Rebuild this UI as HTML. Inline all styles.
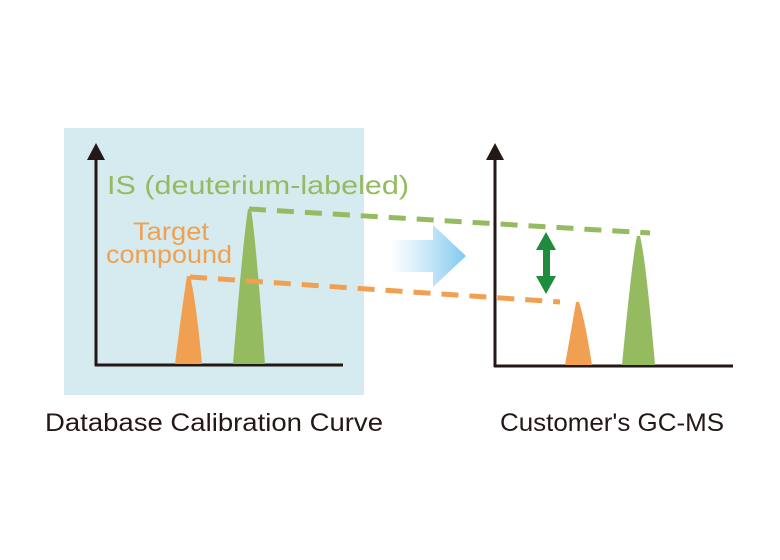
<!DOCTYPE html>
<html><head><style>body{margin:0;background:#fff}svg{display:block}</style></head><body>
<svg width="780" height="560" xmlns="http://www.w3.org/2000/svg" font-family="'Liberation Sans', sans-serif">
<defs>
<linearGradient id="g" x1="0" x2="1" y1="0" y2="0">
<stop offset="0" stop-color="#9fd6f2" stop-opacity="0"/>
<stop offset="1" stop-color="#7ec8ef"/>
</linearGradient>
</defs>
<rect x="64" y="128" width="300" height="267" fill="#d5ebef"/>
<line x1="96" y1="155" x2="96" y2="366" stroke="#231815" stroke-width="3"/>
<polygon points="96,143 87,160 105,160" fill="#231815"/>
<line x1="95" y1="365" x2="343" y2="365" stroke="#231815" stroke-width="3"/>
<path d="M175,364 Q183,300 187,276 L190,276 Q196,300 202,364 Z" fill="#f0a050"/>
<path d="M233,364 Q243,240 248,209 L251,209 Q256,240 265,364 Z" fill="#94bb5f"/>
<line x1="249" y1="209" x2="650" y2="233" stroke="#94bb5f" stroke-width="5" stroke-dasharray="17,11"/>
<line x1="190" y1="277" x2="560" y2="302" stroke="#f0a050" stroke-width="5" stroke-dasharray="17,11"/>
<text x="107" y="194" font-size="26" fill="#94bb5f" textLength="302" lengthAdjust="spacingAndGlyphs">IS (deuterium-labeled)</text>
<text x="133" y="240" font-size="25" fill="#f0a050" textLength="76" lengthAdjust="spacingAndGlyphs">Target</text>
<text x="106" y="263" font-size="25" fill="#f0a050" textLength="126" lengthAdjust="spacingAndGlyphs">compound</text>
<path d="M390,240 L433,240 L433,225 L466,256 L433,287 L433,272 L390,272 Z" fill="url(#g)"/>
<line x1="495" y1="155" x2="495" y2="367" stroke="#231815" stroke-width="3"/>
<polygon points="495,143 486,160 504,160" fill="#231815"/>
<line x1="494" y1="366" x2="733" y2="366" stroke="#231815" stroke-width="3"/>
<path d="M565,365 Q573,320 576,302 L579,302 Q585,320 592,365 Z" fill="#f0a050"/>
<path d="M622,365 Q632,260 637,236 L640,236 Q646,260 655,365 Z" fill="#94bb5f"/>
<rect x="543" y="246" width="7" height="34" fill="#1e8c3c"/>
<polygon points="546,232 536,250 556,250" fill="#1e8c3c"/>
<polygon points="546,294 536,276 556,276" fill="#1e8c3c"/>
<text x="45" y="431" font-size="25" fill="#231815" textLength="338" lengthAdjust="spacingAndGlyphs">Database Calibration Curve</text>
<text x="500" y="431" font-size="25" fill="#231815" textLength="224" lengthAdjust="spacingAndGlyphs">Customer's GC-MS</text>
</svg>
</body></html>
